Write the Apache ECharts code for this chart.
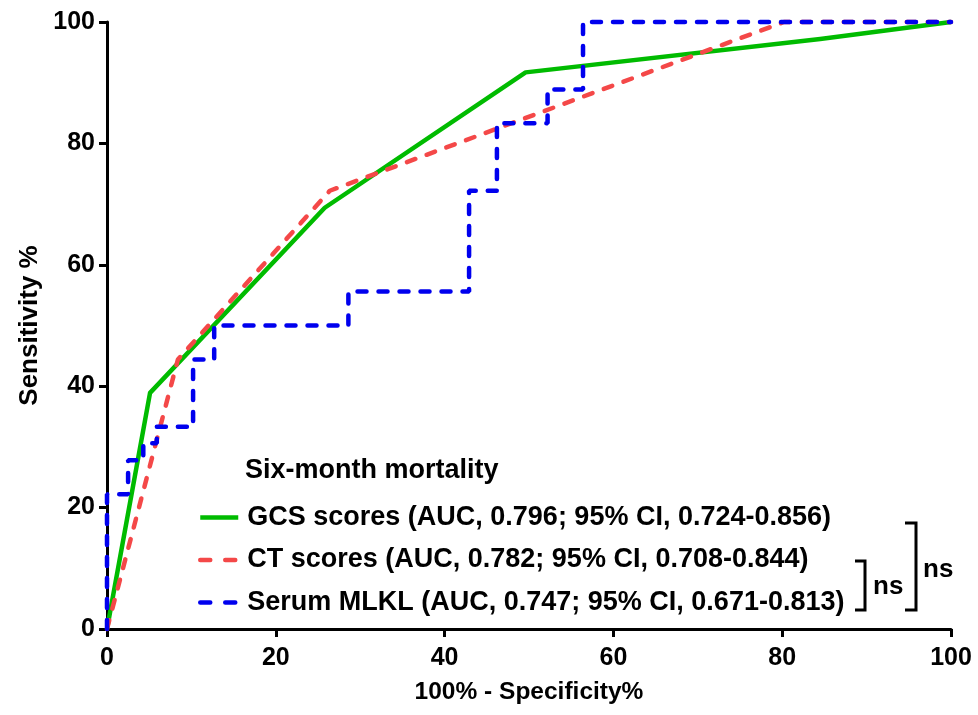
<!DOCTYPE html>
<html>
<head>
<meta charset="utf-8">
<script src="https://cdn.jsdelivr.net/npm/echarts@6/dist/echarts.min.js"></script>
<style>
  html, body { margin: 0; padding: 0; background: #fff; }
  #chart { width: 978px; height: 715px; }
</style>
</head>
<body>
<div id="chart"></div>
<script>
// ROC coordinates: x = 100% - Specificity%, y = Sensitivity %
const gcsFpr = [0, 5.1, 25.8, 49.6, 84.5, 100];
const gcsTpr = [0, 38.9, 69.4, 91.7, 97.2, 100];

const ctFpr = [0, 8.4, 26.4, 80.2, 100];
const ctTpr = [0, 44.4, 72.2, 100, 100];

const mlklFpr = [0, 0, 2.5, 2.5, 4.3, 4.3, 5.9, 5.9, 10.2, 10.2, 12.7, 12.7, 28.6, 28.6,
                 42.9, 42.9, 46.2, 46.2, 52.2, 52.2, 56.4, 56.4, 100];
const mlklTpr = [0, 22.2, 22.2, 27.8, 27.8, 30.6, 30.6, 33.3, 33.3, 44.4, 44.4, 50, 50, 55.6,
                 55.6, 72.2, 72.2, 83.3, 83.3, 88.9, 88.9, 100, 100];

const seriesNames = [
  'GCS scores (AUC, 0.796; 95% CI, 0.724-0.856)',
  'CT scores (AUC, 0.782; 95% CI, 0.708-0.844)',
  'Serum MLKL (AUC, 0.747; 95% CI, 0.671-0.813)'
];
const legendTitle = 'Six-month mortality';
const xTicks = [0, 20, 40, 60, 80, 100];
const yTicks = [0, 20, 40, 60, 80, 100];

const FONT = '"Liberation Sans", Arial, Helvetica, sans-serif';
const pairs = (xs, ys) => xs.map((x, i) => [x, ys[i]]);

const chart = echarts.init(document.getElementById('chart'), null, { renderer: 'canvas' });

const axisCommon = {
  type: 'value',
  splitLine: { show: false },
  axisLine: { show: true, onZero: false, lineStyle: { color: '#000', width: 3 } },
  axisTick: { show: true, inside: false, length: 8, lineStyle: { color: '#000', width: 3 } },
  axisLabel: { fontFamily: FONT, fontWeight: 'bold', fontSize: 25, color: '#000' }
};

// legend keys: dashed entries show two short dashes
const legendDash = { type: [10, 15], cap: 'round', width: 4.5 };

chart.setOption({
  animation: false,
  backgroundColor: '#fff',
  grid: { left: 107, right: 27, top: 22, bottom: 86, containLabel: false },
  title: {
    text: legendTitle,
    left: 245,
    top: 457,
    padding: 0,
    textStyle: { fontFamily: FONT, fontWeight: 'bold', fontSize: 27, color: '#000' }
  },
  legend: {
    orient: 'vertical',
    left: 198,
    top: 504,
    padding: 0,
    itemWidth: 38,
    itemHeight: 20,
    itemGap: 15.5,
    data: [
      { name: seriesNames[0] },
      { name: seriesNames[1], lineStyle: legendDash },
      { name: seriesNames[2], lineStyle: legendDash }
    ],
    itemStyle: { opacity: 0 },
    lineStyle: { width: 4.5 },
    textStyle: { fontFamily: FONT, fontWeight: 'bold', fontSize: 27, color: '#000', padding: [0, 0, 0, 4] }
  },
  xAxis: Object.assign({}, axisCommon, {
    min: xTicks[0],
    max: xTicks[xTicks.length - 1],
    interval: xTicks[1] - xTicks[0],
    name: '100% - Specificity%',
    nameLocation: 'middle',
    nameGap: 51,
    nameTextStyle: { fontFamily: FONT, fontWeight: 'bold', fontSize: 24.5, color: '#000' },
    axisLabel: Object.assign({}, axisCommon.axisLabel, { margin: 17 })
  }),
  yAxis: Object.assign({}, axisCommon, {
    min: yTicks[0],
    max: yTicks[yTicks.length - 1],
    interval: yTicks[1] - yTicks[0],
    name: 'Sensitivity %',
    nameLocation: 'middle',
    nameGap: 64,
    nameTextStyle: { fontFamily: FONT, fontWeight: 'bold', fontSize: 26, color: '#000' },
    axisLabel: Object.assign({}, axisCommon.axisLabel, { margin: 12 })
  }),
  series: [
    {
      name: seriesNames[0],
      type: 'line',
      data: pairs(gcsFpr, gcsTpr),
      showSymbol: false,
      symbol: 'none',
      clip: false,
      color: '#00bb00',
      lineStyle: { color: '#00bb00', width: 4.5, type: 'solid', join: 'round' }
    },
    {
      name: seriesNames[1],
      type: 'line',
      data: pairs(ctFpr, ctTpr),
      showSymbol: false,
      symbol: 'none',
      clip: false,
      color: '#f44848',
      lineStyle: { color: '#f44848', width: 4.5, type: [9, 12], cap: 'round' }
    },
    {
      name: seriesNames[2],
      type: 'line',
      data: pairs(mlklFpr, mlklTpr),
      showSymbol: false,
      symbol: 'none',
      clip: false,
      color: '#0000ee',
      lineStyle: { color: '#0000ee', width: 4.5, type: [9, 12], cap: 'round' }
    }
  ],
  graphic: [
    // bracket between CT and MLKL
    { type: 'polyline', shape: { points: [[855, 561], [865, 561], [865, 610], [855, 610]] },
      style: { stroke: '#000', lineWidth: 3, fill: null } },
    { type: 'text', left: 873, top: 574,
      style: { text: 'ns', fontFamily: FONT, fontWeight: 'bold', fontSize: 26, fill: '#000' } },
    // bracket between GCS and MLKL
    { type: 'polyline', shape: { points: [[905, 523], [916, 523], [916, 610], [905, 610]] },
      style: { stroke: '#000', lineWidth: 3, fill: null } },
    { type: 'text', left: 923, top: 557,
      style: { text: 'ns', fontFamily: FONT, fontWeight: 'bold', fontSize: 26, fill: '#000' } }
  ]
});
</script>
</body>
</html>
